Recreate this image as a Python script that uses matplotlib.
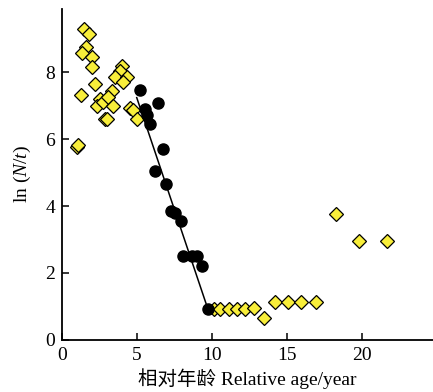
import matplotlib.pyplot as plt
import numpy as np

plt.rcParams['font.family'] = ['Liberation Serif', 'Noto Sans CJK SC']
plt.rcParams['mathtext.fontset'] = 'custom'
plt.rcParams['mathtext.rm'] = 'Liberation Serif'
plt.rcParams['mathtext.it'] = 'Liberation Serif:italic'

# yellow points (outside the fitted segment)
yellow_x = [0.98, 1.05, 1.47, 1.82, 1.6, 1.31, 1.98, 2.02, 2.2, 1.24, 2.53, 2.31, 2.76,
            3.31, 3.09, 3.42, 2.87, 3.0, 3.98, 3.87, 3.53, 4.31, 4.09, 4.53, 4.75, 4.98,
            10.09, 10.53, 11.09, 11.64, 12.2, 12.8, 13.47,
            14.2, 15.04, 15.91, 16.93, 18.24, 19.76, 21.64]
yellow_y = [5.77, 5.83, 9.29, 9.14, 8.76, 8.56, 8.46, 8.16, 7.66, 7.31, 7.2, 7.0, 7.1,
            7.43, 7.25, 7.0, 6.61, 6.6, 8.18, 8.03, 7.86, 7.86, 7.71, 6.92, 6.86, 6.61,
            0.92, 0.92, 0.92, 0.92, 0.92, 0.94, 0.65,
            1.12, 1.12, 1.12, 1.12, 3.75, 2.95, 2.95]

# black points (used for the regression)
black_x = [5.22, 6.4, 5.5, 5.66, 5.87, 6.73, 6.2, 6.93, 7.24, 7.53, 7.91,
           8.09, 8.64, 8.98, 9.31, 9.71]
black_y = [7.46, 7.07, 6.9, 6.73, 6.46, 5.7, 5.05, 4.66, 3.85, 3.8, 3.55,
           2.5, 2.5, 2.5, 2.2, 0.93]

# fitted line end points
line_x = [4.98, 9.71]
line_y = [7.24, 0.93]

fig = plt.figure(figsize=(4.33, 3.92), dpi=100)
ax = fig.add_axes([0.143, 0.133, 0.857, 0.845])

ax.plot(line_x, line_y, color='black', lw=1.1, zorder=2)
ax.plot(yellow_x, yellow_y, linestyle='none', marker='D', markersize=7,
        markerfacecolor='#f8ee3a', markeredgecolor='black', markeredgewidth=0.9, zorder=3)
ax.plot(black_x, black_y, linestyle='none', marker='o', markersize=8,
        markerfacecolor='black', markeredgecolor='black', zorder=4)

ax.set_xlim(0, 24.7)
ax.set_ylim(0, 9.9)
ax.set_xticks([0, 5, 10, 15, 20])
ax.set_yticks([0, 2, 4, 6, 8])
ax.spines['top'].set_visible(False)
ax.spines['right'].set_visible(False)
for s in ['left', 'bottom']:
    ax.spines[s].set_linewidth(1.3)
ax.tick_params(direction='in', length=5, width=1.1, labelsize=14, pad=5)

ax.set_xlabel('相对年龄 Relative age/year', fontsize=14, labelpad=3)
ax.set_ylabel(r'ln ($\mathit{N/t}$)', fontsize=14, labelpad=9)

fig.savefig('out.png', dpi=100)
